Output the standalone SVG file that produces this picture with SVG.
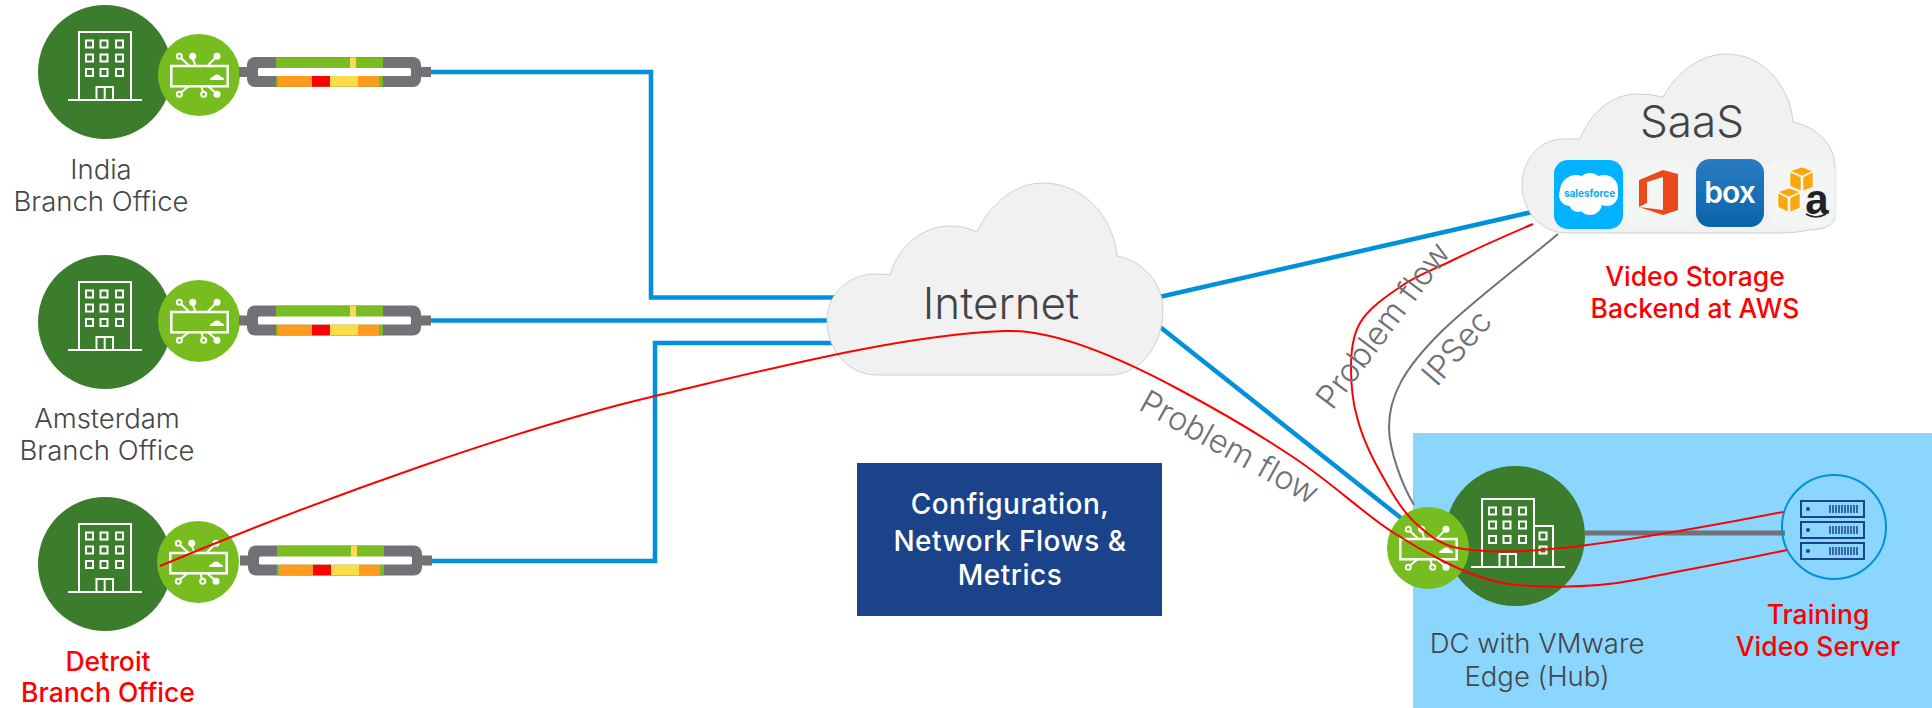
<svg xmlns="http://www.w3.org/2000/svg" width="1932" height="708" viewBox="0 0 1932 708">
<style>
text{font-family:"Inter","Open Sans","Liberation Sans",sans-serif;text-anchor:middle}
.lbl{font-size:27.500px;font-weight:300;fill:#444649}
.red{font-size:26.500px;font-weight:500;fill:#ff0000}
.rot{font-size:32.500px;font-weight:300;fill:#6f7075}
.cloudt{font-size:44px;font-weight:300;fill:#444}
.box{font-size:28px;font-weight:500;fill:#fff;letter-spacing:.5px}
.cloud{fill:#f1f1f1;stroke:#cfcfcf;stroke-width:1}
.blue{fill:none;stroke:#0091da;stroke-width:4.500}
.redl{fill:none;stroke:#ff0000;stroke-width:2}
.wl{fill:none;stroke:#fff;stroke-width:2}
.wf{fill:#fff}
.tile{fill:#f4f5f5}
.big{fill:#3b7d2d}
</style>
<defs>
<g id="building">
<rect x="-26" y="-40" width="52" height="68" class="wl"/>
<path d="M-37 28H37M-8.500 28V15H8V28M-.3 15V28" class="wl"/>
<g class="wl">
<rect x="-19" y="-31.500" width="7" height="7"/><rect x="-4.500" y="-31.500" width="7" height="7"/><rect x="11" y="-31.500" width="7" height="7"/>
<rect x="-19" y="-17.500" width="7" height="7"/><rect x="-4.500" y="-17.500" width="7" height="7"/><rect x="11" y="-17.500" width="7" height="7"/>
<rect x="-19" y="-3" width="7" height="7"/><rect x="-4.500" y="-3" width="7" height="7"/><rect x="11" y="-3" width="7" height="7"/>
</g>
</g>
<g id="edge">
<circle r="41" fill="#78bd20"/>
<rect x="-27.700" y="-9" width="56.400" height="20.300" fill="none" stroke="#fff" stroke-width="2.500"/>
<path d="M-17.700 -16.700L-10.300 -9.700M-6 -16L-3.700 -9.700M16 -16.700L9 -9.700M-17.700 17.300L-10.300 11.300M4 17L2.300 11.300M16 17.300L9 11.300" class="wl"/>
<circle cx="-19.700" cy="-18.700" r="2.500" class="wl"/><circle cx="-6.300" cy="-18.700" r="3.500" class="wf"/><circle cx="18" cy="-18.700" r="3.500" class="wf"/>
<circle cx="-19.700" cy="19.300" r="2.500" class="wl"/><circle cx="4.700" cy="19.300" r="2.500" class="wl"/><circle cx="18" cy="19.300" r="3.500" class="wf"/>
<path d="M11 5a3 3 0 0 1 3-3a4.500 4.500 0 0 1 8 0a3 3 0 0 1 3 3z" class="wf"/>
</g>
<g id="tunnel">
<rect x="0" y="-5" width="192" height="10" fill="#717176"/>
<rect x="8" y="-15" width="174" height="30" rx="8" fill="#717176"/>
<rect x="37" y="-14.700" width="74" height="11" fill="#7abd22"/><rect x="111" y="-14.700" width="6" height="11" fill="#fbdc4b"/><rect x="117" y="-14.700" width="27" height="11" fill="#7abd22"/>
<rect x="37" y="4" width="107" height="10.700" fill="#7abd22"/><rect x="39" y="4" width="34" height="10.700" fill="#fc9b1e"/><rect x="73" y="4" width="18" height="10.700" fill="#ff0000"/><rect x="91" y="4" width="28" height="10.700" fill="#fbdc4b"/><rect x="119" y="4" width="21" height="10.700" fill="#fc9b1e"/>
<rect x="19" y="-4" width="153" height="8" rx="1.500" fill="#fff"/>
</g>
<linearGradient id="boxg" x1="0" y1="0" x2="0" y2="1"><stop offset="0" stop-color="#2a7cc0"/><stop offset="1" stop-color="#0a64ab"/></linearGradient>
</defs>
<rect width="1932" height="708" fill="#fff"/>
<rect id="dc-panel" x="1413" y="433" width="519" height="275" fill="#8bd6ff"/>

<g id="connectors-under">
<path class="blue" d="M431 72H651V297.500H840"/>
<path class="blue" d="M431 320.500H840"/>
<path class="blue" d="M431 561H655V343H840"/>
<path class="blue" d="M1155 298L1532 212"/>
<path class="blue" d="M1155 323L1401 518"/>
<path d="M1585 533H1785" fill="none" stroke="#717176" stroke-width="5"/>
<path d="M1558 234C1525 262 1470 303 1440 333C1405 368 1389 395 1389 427C1389 450 1402 485 1414 505" fill="none" stroke="#717176" stroke-width="2"/>
</g>

<g id="india">
<circle class="big" cx="105" cy="72" r="67"/><use href="#building" x="105" y="72"/><use href="#edge" x="199" y="75"/><use href="#tunnel" x="239" y="72"/>
<text class="lbl" x="101" y="179">India</text><text class="lbl" x="101" y="211">Branch Office</text>
</g>
<g id="amsterdam">
<circle class="big" cx="105" cy="322" r="67"/><use href="#building" x="105" y="322"/><use href="#edge" x="199" y="321"/><use href="#tunnel" x="239" y="320.500"/>
<text class="lbl" x="107" y="428">Amsterdam</text><text class="lbl" x="107" y="460">Branch Office</text>
</g>
<g id="detroit">
<circle class="big" cx="105" cy="564" r="67"/><use href="#building" x="105" y="564"/><use href="#edge" x="198" y="562"/><use href="#tunnel" x="240" y="560.500"/>
<text class="red" x="108" y="670.500">Detroit</text><text class="red" x="108" y="702">Branch Office</text>
</g>

<g id="internet">
<path class="cloud" d="M877 375C848 375 827 350 827 320C827 295 848 274 875 274Q883 274 890 275C898 247 922 226 950 226Q965 226 977 232C990 204 1015 183 1043 183C1082 183 1113 215 1117 256C1143 261 1163 283 1163 310C1163 345 1140 375 1110 375Z"/>
<text class="cloudt" x="1001" y="319">Internet</text>
</g>

<g id="saas">
<path class="cloud" d="M1567 233C1540 233 1522 210 1522 185C1522 160 1540 139 1563 139Q1572 139 1580 139C1590 113 1612 94 1637 94Q1652 94 1663 97C1677 72 1700 54 1727 54C1762 54 1790 85 1793 122C1817 127 1835 145 1835 167V215Q1835 229 1810 230Q1795 233 1783 233Z"/>
<text class="cloudt" x="1692" y="137">SaaS</text>
<rect x="1554" y="160" width="69" height="69" rx="14" fill="#00b2ff"/>
<g class="wf"><circle cx="1576" cy="191" r="16"/><circle cx="1590" cy="186" r="13"/><circle cx="1604" cy="189" r="14"/><circle cx="1570" cy="195" r="11"/><circle cx="1607" cy="195" r="11"/><circle cx="1590" cy="203" r="12"/><circle cx="1578" cy="203" r="9"/></g>
<text x="1589.500" y="197" font-size="10" font-weight="700" fill="#00aeef">salesforce</text>
<rect class="tile" x="1626" y="159" width="67" height="69" rx="14"/>
<path fill="#ea4a1b" fill-rule="evenodd" d="M1639 180L1663 170L1678 174V210L1663 215L1639 207L1663 210V177L1647 182V203L1639 207Z"/>
<rect x="1696" y="159" width="68" height="68" rx="14" fill="url(#boxg)"/>
<text x="1729.500" y="203" font-size="30" font-weight="600" fill="#fff" letter-spacing="-1">box</text>
<rect class="tile" x="1768" y="159" width="67" height="68" rx="14"/>
<g fill="#f7a80d" stroke="#fff" stroke-width=".6">
<path d="M1802 167L1790 171L1802 176L1813 171Z"/><path d="M1790 172V186L1801 191V177Z"/><path d="M1803 177V191L1813 187V172Z"/>
<path d="M1789 188L1778 192L1789 197L1800 192Z"/><path d="M1778 193V207L1788 212V198Z"/><path d="M1790 198V212L1800 208V193Z"/>
</g>
<text x="1817" y="214" font-size="42" font-weight="700" fill="#222" style="font-family:'Liberation Sans',sans-serif">a</text>
<path d="M1806 214Q1816 220 1826 214" fill="none" stroke="#222" stroke-width="1.500"/>
</g>

<g id="hub">
<circle class="big" cx="1515" cy="536" r="70"/>
<use href="#building" x="1508" y="539"/>
<path d="M1534 526H1553V567M1539.500 532.500h7v7h-7zM1539.500 546.500h7v7h-7zM1545 567H1565" class="wl"/>
<use href="#edge" x="1428" y="548"/>
</g>

<g id="server">
<circle cx="1834" cy="527" r="52" fill="none" stroke="#0091da" stroke-width="2"/>
<g fill="none" stroke="#1b4389" stroke-width="2">
<rect x="1801" y="501" width="63" height="16"/><rect x="1801" y="522" width="63" height="16"/><rect x="1801" y="543" width="63" height="16"/>
<path d="M1830 505v8M1833 505v8M1836 505v8M1839 505v8M1842 505v8M1845 505v8M1848 505v8M1851 505v8M1854 505v8M1857 505v8M1830 526v8M1833 526v8M1836 526v8M1839 526v8M1842 526v8M1845 526v8M1848 526v8M1851 526v8M1854 526v8M1857 526v8M1830 547v8M1833 547v8M1836 547v8M1839 547v8M1842 547v8M1845 547v8M1848 547v8M1851 547v8M1854 547v8M1857 547v8" stroke-width="1.500"/>
</g>
<circle cx="1808" cy="509" r="2" fill="#1b4389"/><circle cx="1808" cy="530" r="2" fill="#1b4389"/><circle cx="1808" cy="551" r="2" fill="#1b4389"/>
</g>

<g id="flows">
<rect x="857" y="463" width="305" height="153" fill="#1b4389"/>
<text class="box" x="1010" y="514">Configuration,</text><text class="box" x="1010" y="551">Network Flows &amp;</text><text class="box" x="1010" y="585">Metrics</text>
</g>

<g id="connectors">
<path class="redl" d="M160 566C330 495 520 428 653 396.500C770 369 900 335 1005 331C1050 329 1115 355 1180 390C1225 414 1260 435 1293 457C1335 485 1365 515 1394 533C1420 550 1465 575 1498 582C1525 588 1590 589 1635 580C1685 570 1740 560 1787 550"/>
<path class="redl" d="M1533 224C1505 236 1478 248 1453 260C1435 269 1418 275 1403 285C1385 297 1368 309 1360 323C1353 335 1351 351 1351 367C1351 385 1352 400 1357 417C1362 437 1372 458 1383 477C1394 497 1405 515 1420 527C1432 538 1440 543 1453 547C1475 552 1500 552 1525 551C1590 548 1690 530 1783 512"/>
</g>

<g id="labels">
<text class="rot" transform="translate(1224 457) rotate(29)">Problem flow</text>
<text class="rot" transform="translate(1392 332) rotate(-53)">Problem flow</text>
<text class="rot" transform="translate(1465 355) rotate(-49)">IPSec</text>
<text class="red" x="1695" y="286">Video Storage</text><text class="red" x="1695" y="318">Backend at AWS</text>
<text class="lbl" x="1537" y="653">DC with VMware</text><text class="lbl" x="1537" y="686">Edge (Hub)</text>
<text class="red" x="1818" y="624">Training</text><text class="red" x="1818" y="656">Video Server</text>
</g>
</svg>
